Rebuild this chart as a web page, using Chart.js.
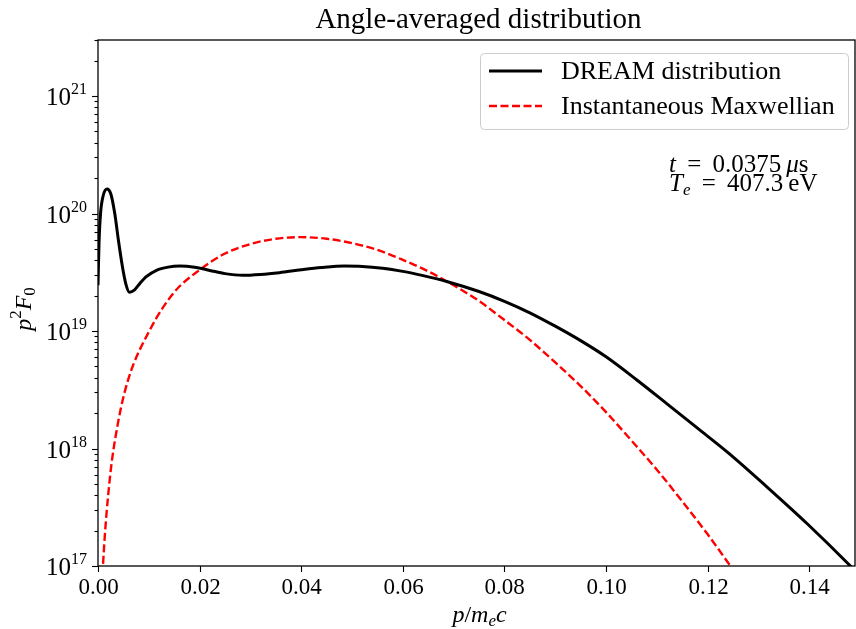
<!DOCTYPE html>
<html>
<head>
<meta charset="utf-8">
<script src="https://cdn.jsdelivr.net/npm/chart.js@4.4.1/dist/chart.umd.min.js"></script>
<style>
  html, body { margin: 0; padding: 0; background: #fff; }
</style>
</head>
<body>
<canvas id="chart" width="856" height="629"></canvas>
<script>
// ----- DATOS -----
const dreamP = [0, 0.0002, 0.0005, 0.001, 0.0018, 0.0025, 0.0033, 0.004, 0.0048, 0.0055,
                0.0062, 0.0072, 0.0082, 0.0095, 0.0115, 0.0138, 0.0161, 0.019, 0.022, 0.025,
                0.0285, 0.032, 0.0357, 0.04, 0.044, 0.0485, 0.052, 0.056, 0.06, 0.064,
                0.0688, 0.075, 0.08, 0.085, 0.09, 0.095, 0.1, 0.106, 0.112, 0.118,
                0.124, 0.1317, 0.1396, 0.1481, 0.151];
const dreamF = [2.45e19, 5.6e19, 1.0e20, 1.41e20, 1.62e20, 1.48e20, 1.0e20, 6.0e19, 3.55e19, 2.5e19,
                2.14e19, 2.24e19, 2.53e19, 2.9e19, 3.29e19, 3.5e19, 3.57e19, 3.49e19, 3.28e19, 3.08e19,
                2.98e19, 3.03e19, 3.14e19, 3.32e19, 3.47e19, 3.57e19, 3.55e19, 3.43e19, 3.22e19, 2.96e19,
                2.63e19, 2.17e19, 1.79e19, 1.43e19, 1.10e19, 8.28e18, 6.03e18, 3.85e18, 2.40e18, 1.49e18,
                9.23e17, 4.70e17, 2.29e17, 1.0e17, 7.4e16];

const maxwP = [0.0007, 0.001, 0.0023, 0.0039, 0.0059, 0.0102, 0.015, 0.02, 0.025, 0.03,
               0.035, 0.04, 0.045, 0.05, 0.055, 0.06, 0.065, 0.07, 0.075, 0.08,
               0.085, 0.09, 0.095, 0.1, 0.105, 0.11, 0.115, 0.12, 0.125];
const maxwF = [5.3e16, 1.05e17, 5.4e17, 1.62e18, 3.8e18, 1.02e19, 2.14e19, 3.31e19, 4.57e19, 5.5e19,
               6.1e19, 6.3e19, 6.1e19, 5.6e19, 4.9e19, 4.03e19, 3.22e19, 2.45e19, 1.8e19, 1.24e19,
               8.4e18, 5.4e18, 3.4e18, 2.04e18, 1.17e18, 6.6e17, 3.55e17, 1.86e17, 9.3e16];

const xTickValues = [0, 0.02, 0.04, 0.06, 0.08, 0.10, 0.12, 0.14];
const xTickLabels = ['0.00', '0.02', '0.04', '0.06', '0.08', '0.10', '0.12', '0.14'];
const yDecades = [17, 18, 19, 20, 21];

const seriesLabels = ['DREAM distribution', 'Instantaneous Maxwellian'];
const FONT = "'Liberation Serif', 'DejaVu Serif', serif";

// Dibuja texto con partes en cursiva / sub / superíndice
function drawRuns(ctx, runs, x, y, align) {
    let total = 0;
    runs.forEach(r => {
        ctx.font = (r.it ? 'italic ' : '') + r.size + 'px ' + FONT;
        r.w = ctx.measureText(r.t).width;
        total += r.w;
    });
    let cx = align === 'center' ? x - total / 2 : (align === 'right' ? x - total : x);
    ctx.textAlign = 'left';
    ctx.textBaseline = 'alphabetic';
    runs.forEach(r => {
        ctx.font = (r.it ? 'italic ' : '') + r.size + 'px ' + FONT;
        ctx.fillText(r.t, cx, y + (r.dy || 0));
        cx += r.w;
    });
}

const decorPlugin = {
    id: 'decor',
    afterDraw(chart) {
        const ctx = chart.ctx;
        const area = chart.chartArea;
        const xs = chart.scales.x;
        const ys = chart.scales.y;
        ctx.save();
        ctx.fillStyle = '#000';
        ctx.strokeStyle = '#000';

        // marco
        ctx.lineWidth = 1.3;
        ctx.strokeRect(area.left, area.top, area.right - area.left, area.bottom - area.top);

        // ticks eje x
        ctx.lineWidth = 1.1;
        xs.ticks.forEach((t, i) => {
            const px = Math.round(xs.getPixelForValue(t.value)) + 0.5;
            ctx.beginPath();
            ctx.moveTo(px, area.bottom);
            ctx.lineTo(px, area.bottom + 6);
            ctx.stroke();
            ctx.font = '23px ' + FONT;
            ctx.textAlign = 'center';
            ctx.textBaseline = 'alphabetic';
            ctx.fillText(xTickLabels[i], px, area.bottom + 28);
        });

        // ticks eje y (log)
        ys.ticks.forEach(t => {
            const e = Math.floor(Math.log10(t.value) + 1e-9);
            const m = t.value / Math.pow(10, e);
            const isMajor = Math.abs(m - 1) < 1e-6;
            const py = Math.round(ys.getPixelForValue(t.value)) + 0.5;
            if (py < area.top - 0.5 || py > area.bottom + 1) return;
            ctx.beginPath();
            ctx.moveTo(area.left, py);
            ctx.lineTo(area.left - (isMajor ? 6 : 3.5), py);
            ctx.stroke();
            if (isMajor) {
                drawRuns(ctx, [
                    { t: '10', size: 25 },
                    { t: String(e), size: 16, dy: -11 }
                ], area.left - 11, py + 8, 'right');
            }
        });

        // títulos
        drawRuns(ctx, [{ t: 'Angle-averaged distribution', size: 29 }], (area.left + area.right) / 2 + 2, 28, 'center');
        drawRuns(ctx, [
            { t: 'p', size: 24, it: true },
            { t: '/', size: 24 },
            { t: 'm', size: 24, it: true },
            { t: 'e', size: 17, it: true, dy: 4 },
            { t: 'c', size: 24, it: true }
        ], (area.left + area.right) / 2 + 3, 622, 'center');

        ctx.save();
        ctx.translate(31, (area.top + area.bottom) / 2 + 6);
        ctx.rotate(-Math.PI / 2);
        drawRuns(ctx, [
            { t: 'p', size: 24, it: true },
            { t: '2', size: 17, dy: -10 },
            { t: 'F', size: 24, it: true },
            { t: '0', size: 17, dy: 4 }
        ], 0, 0, 'center');
        ctx.restore();

        // leyenda
        const lx = 480, ly = 53, lw = 368, lh = 76;
        ctx.beginPath();
        ctx.roundRect(lx + 0.5, ly + 0.5, lw, lh, 4);
        ctx.fillStyle = 'rgba(255,255,255,0.85)';
        ctx.fill();
        ctx.strokeStyle = '#cccccc';
        ctx.lineWidth = 1;
        ctx.stroke();
        chart.data.datasets.forEach((ds, i) => {
            const yy = ly + 18 + i * 35;
            ctx.beginPath();
            ctx.strokeStyle = ds.borderColor;
            ctx.lineWidth = ds.borderWidth;
            ctx.setLineDash(ds.borderDash || []);
            ctx.moveTo(lx + 9, yy);
            ctx.lineTo(lx + 62, yy);
            ctx.stroke();
            ctx.setLineDash([]);
            ctx.fillStyle = '#000';
            drawRuns(ctx, [{ t: ds.label, size: 26 }], lx + 81, yy + 8, 'left');
        });

        // anotación
        ctx.fillStyle = '#000';
        drawRuns(ctx, [
            { t: 't', size: 25, it: true },
            { t: '\u2009 = \u20090.0375\u2009', size: 25 },
            { t: 'μ', size: 25, it: true },
            { t: 's', size: 25 }
        ], 669, 172, 'left');
        drawRuns(ctx, [
            { t: 'T', size: 25, it: true },
            { t: 'e', size: 17, it: true, dy: 4 },
            { t: '\u2009 = \u2009407.3\u2009eV', size: 25 }
        ], 669, 191, 'left');

        ctx.restore();
    }
};

const ctx = document.getElementById('chart');
new Chart(ctx, {
    type: 'line',
    data: {
        datasets: [
            {
                label: seriesLabels[0],
                data: dreamP.map((p, i) => ({ x: p, y: dreamF[i] })),
                borderColor: '#000000',
                borderWidth: 3,
                pointRadius: 0,
                cubicInterpolationMode: 'monotone',
                fill: false
            },
            {
                label: seriesLabels[1],
                data: maxwP.map((p, i) => ({ x: p, y: maxwF[i] })),
                borderColor: '#ff0000',
                borderWidth: 2.4,
                borderDash: [8, 3.5],
                pointRadius: 0,
                cubicInterpolationMode: 'monotone',
                fill: false
            }
        ]
    },
    options: {
        responsive: false,
        animation: false,
        devicePixelRatio: 1,
        layout: { padding: { top: 40, right: 1, left: 0, bottom: 0 } },
        plugins: {
            legend: { display: false },
            tooltip: { enabled: false },
            title: { display: false }
        },
        scales: {
            x: {
                type: 'linear',
                min: 0,
                max: 0.149,
                grid: { display: false, drawTicks: false },
                border: { display: false },
                ticks: { display: false },
                afterBuildTicks: scale => { scale.ticks = xTickValues.map(v => ({ value: v })); },
                afterFit: scale => { scale.height = 63; }
            },
            y: {
                type: 'logarithmic',
                min: 1e17,
                max: 3.0e21,
                grid: { display: false, drawTicks: false },
                border: { display: false },
                ticks: { display: false },
                afterBuildTicks: scale => {
                    const t = [];
                    yDecades.forEach(e => {
                        for (let m = 1; m <= 9; m++) t.push({ value: m * Math.pow(10, e) });
                    });
                    scale.ticks = t;
                },
                afterFit: scale => { scale.width = 98; }
            }
        }
    },
    plugins: [decorPlugin]
});
</script>
</body>
</html>
